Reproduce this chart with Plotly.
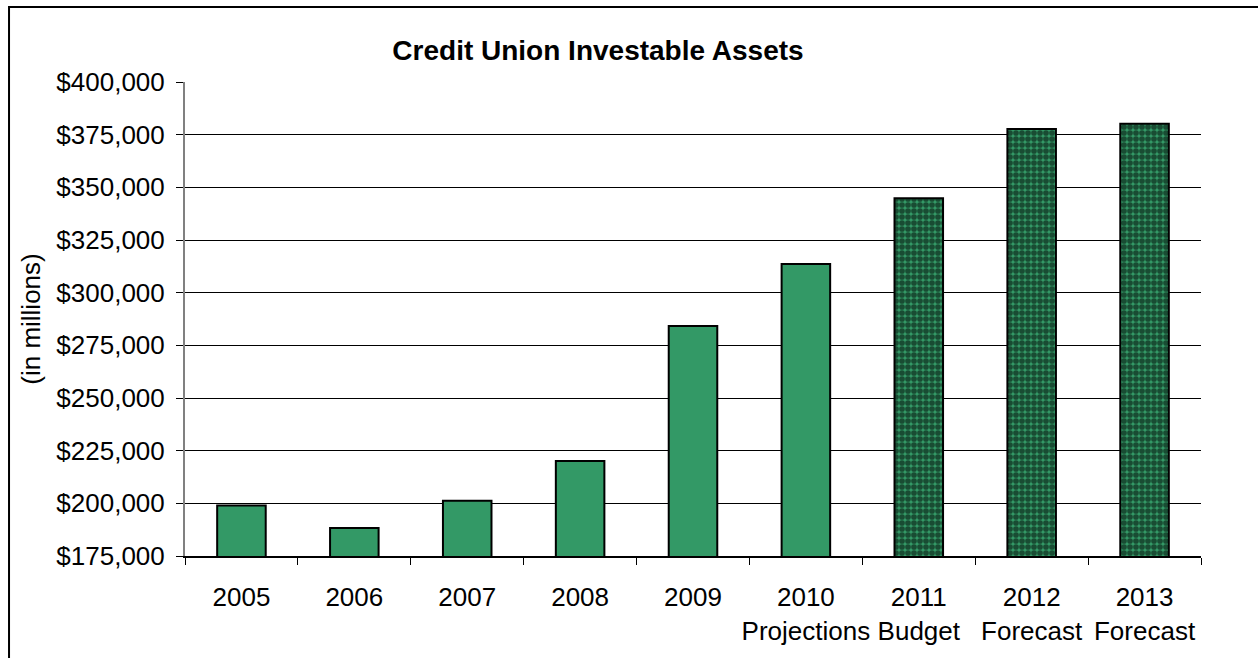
import plotly.graph_objects as go

# Investable assets by year (in millions of dollars)
years = ["2005", "2006", "2007", "2008", "2009", "2010", "2011", "2012", "2013"]
notes = ["", "", "", "", "", "Projections", "Budget", "Forecast", "Forecast"]
assets = [199000, 188300, 201200, 220100, 284200, 313600, 344800, 377700, 380200]
projected = [False, False, False, False, False, False, True, True, True]

y_ticks = [175000, 200000, 225000, 250000, 275000, 300000, 325000, 350000, 375000, 400000]
y_tick_text = ["${:,}".format(v) for v in y_ticks]

labels = [y if not n else f"{y}<br>{n}" for y, n in zip(years, notes)]

GREEN = "#339966"
FONT = "Liberation Sans, Arial, sans-serif"
TICK_SIZE = 26

fig = go.Figure(
    go.Bar(
        x=labels,
        y=assets,
        width=0.43,
        marker=dict(
            color=GREEN,
            line=dict(color="#000000", width=2),
            pattern=dict(
                shape=["." if p else "" for p in projected],
                fgcolor="#000000",
                bgcolor=GREEN,
                size=6,
                solidity=0.7,
                fillmode="overlay",
            ),
        ),
        hoverinfo="x+y",
    )
)

# outer chart frame
fig.add_shape(
    type="rect", xref="paper", yref="paper",
    x0=-0.1732, x1=1.2, y0=-0.4, y1=1.1582,
    line=dict(color="#000000", width=2), fillcolor="rgba(0,0,0,0)", layer="below",
)

fig.update_layout(
    width=1258,
    height=658,
    margin=dict(l=185, r=57, t=82, b=102, autoexpand=False),
    paper_bgcolor="white",
    plot_bgcolor="white",
    font=dict(family=FONT, size=TICK_SIZE, color="#000000"),
    showlegend=False,
    title=dict(
        text="<b>Credit Union Investable Assets</b>",
        x=0.4065, xref="paper", xanchor="center",
        y=1.0, yref="container", yanchor="top", pad=dict(t=40),
        font=dict(family=FONT, size=28, color="#000000"),
    ),
    xaxis=dict(
        type="category",
        automargin=False,
        tickangle=0,
        showline=True, linecolor="#000000", linewidth=1.5,
        ticks="outside", ticklen=7, tickcolor="#000000", tickwidth=1,
        tickson="boundaries",
        ticklabelstandoff=17,
        showgrid=False,
        tickfont=dict(family=FONT, size=TICK_SIZE),
    ),
    yaxis=dict(
        automargin=False,
        range=[175000, 400000],
        tickvals=y_ticks,
        ticktext=y_tick_text,
        showline=True, linecolor="#808080", linewidth=2,
        ticks="outside", ticklen=7, tickcolor="#000000", tickwidth=1,
        ticklabelstandoff=6,
        showgrid=True, gridcolor="#000000", gridwidth=1,
        zeroline=False,
        title=dict(text="(in millions)", standoff=8, font=dict(family=FONT, size=TICK_SIZE)),
        tickfont=dict(family=FONT, size=TICK_SIZE),
    ),
)

fig.write_html("out.html")
